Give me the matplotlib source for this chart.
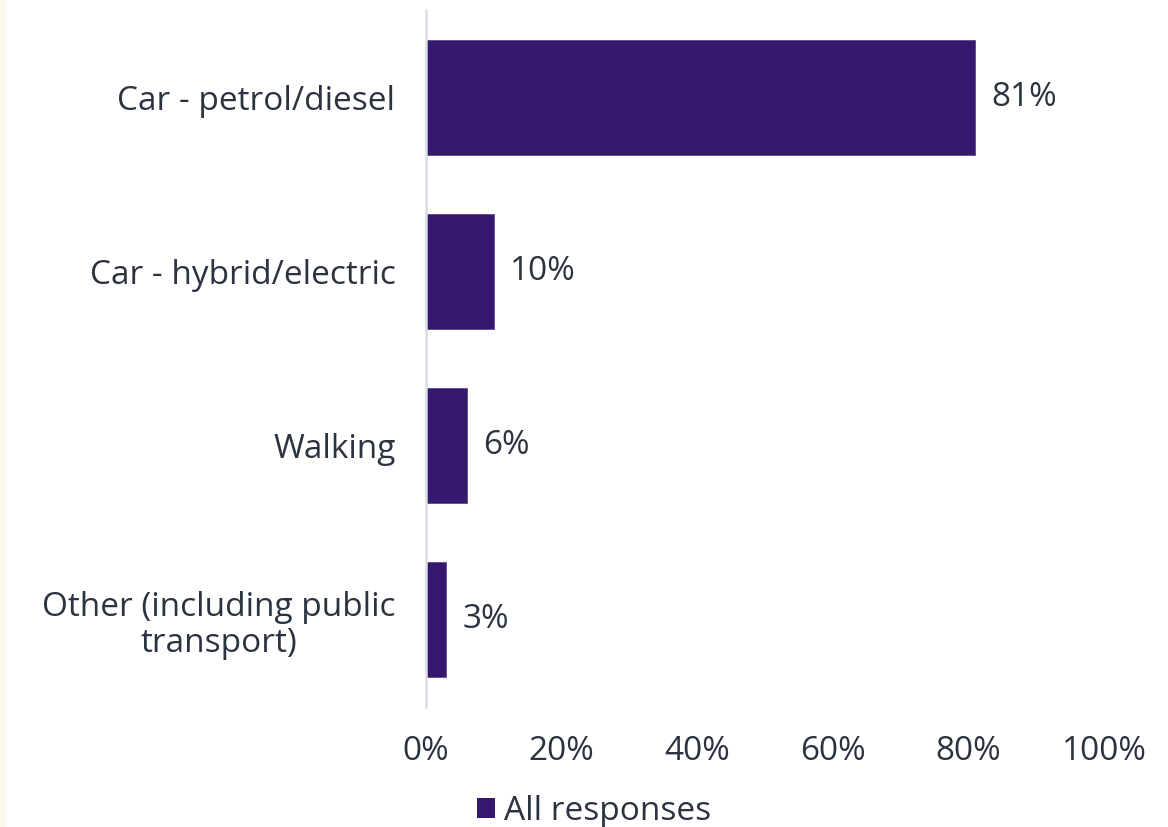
import matplotlib
matplotlib.use("Agg")
import matplotlib.pyplot as plt
from matplotlib.patches import Rectangle

categories = ["Car - petrol/diesel", "Car - hybrid/electric", "Walking",
              "Other (including public\ntransport)"]
values = [81, 10, 6, 3]
value_labels = ["81%", "10%", "6%", "3%"]
xticks = [0, 20, 40, 60, 80, 100]
xtick_labels = ["0%", "20%", "40%", "60%", "80%", "100%"]
series_name = "All responses"

bar_color = "#35186E"
text_color = "#2B3340"
font = ["Open Sans", "DejaVu Sans"]
fs = 24

fig = plt.figure(figsize=(11.68, 8.27), dpi=100)
fig.patch.set_facecolor("white")
fig.patches.append(Rectangle((0, 0), 6 / 1168, 1, transform=fig.transFigure,
                             facecolor="#FBF8EC", edgecolor="none", zorder=0))

ax = fig.add_axes([426 / 1168, 1 - 707 / 827, 678 / 1168, 697 / 827])
y = list(range(len(categories)))
ax.barh(y, values, height=0.66, color=bar_color, edgecolor="#5B4A8E",
        linewidth=0.6, zorder=2)
ax.set_ylim(len(categories) - 0.5, -0.5)
ax.set_xlim(0, 100)

for yi, v, lab in zip(y, values, value_labels):
    ax.annotate(lab, (v, yi), xytext=(12, 0), textcoords="offset points",
                ha="left", va="center", fontsize=fs, color=text_color,
                family=font)

ax.set_yticks(y)
ax.set_yticklabels(categories, fontsize=fs, color=text_color, family=font,
                   linespacing=1.12)
for lbl in ax.get_yticklabels():
    lbl.set_multialignment("center")
ax.set_xticks(xticks)
ax.set_xticklabels(xtick_labels, fontsize=fs, color=text_color, family=font)
ax.tick_params(axis="both", length=0)
ax.tick_params(axis="y", pad=22)
ax.tick_params(axis="x", pad=20)

for side in ["top", "right", "bottom"]:
    ax.spines[side].set_visible(False)
ax.spines["left"].set_color("#D9DCE3")
ax.spines["left"].set_linewidth(1.8)
ax.set_facecolor("none")

handle = Rectangle((0, 0), 1, 1, facecolor=bar_color)
leg = fig.legend([handle], [series_name], loc="center",
                 bbox_to_anchor=(594 / 1168, 1 - 811 / 827), frameon=False,
                 prop={"family": font, "size": fs}, handlelength=0.55,
                 handleheight=0.55, handletextpad=0.25, borderpad=0)
for t in leg.get_texts():
    t.set_color(text_color)

fig.savefig("out.png", dpi=100)
